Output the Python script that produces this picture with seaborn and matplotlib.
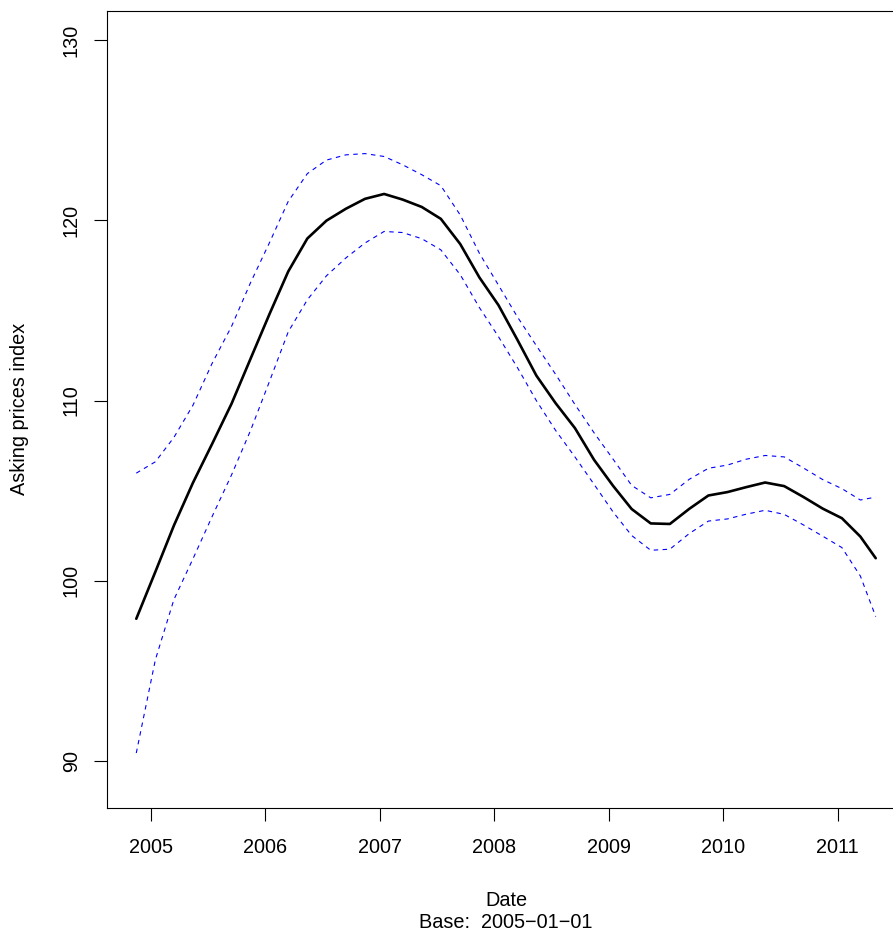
import pandas as pd
import matplotlib
matplotlib.use("Agg")
import matplotlib.pyplot as plt
import matplotlib.dates as mdates
import seaborn as sns

# Data, two-monthly points + last obs
dates = list(pd.date_range("2004-11-01", "2011-03-01", freq="2MS") + pd.Timedelta(days=14)) \
    + [pd.Timestamp("2011-05-03")]

index_fit = [97.89, 100.50, 103.06, 105.44, 107.59, 109.82, 112.33, 114.83, 117.16, 118.99,
             119.98, 120.64, 121.19, 121.46, 121.15, 120.74, 120.08, 118.68, 116.83, 115.29,
             113.38, 111.38, 109.86, 108.47, 106.71, 105.26, 103.98, 103.18, 103.15, 103.99,
             104.73, 104.92, 105.19, 105.45, 105.25, 104.64, 104.00, 103.47, 102.45, 101.25]

upper_band = [105.97, 106.60, 107.95, 109.74, 112.06, 114.11, 116.55, 118.79, 121.05, 122.59,
              123.34, 123.63, 123.70, 123.54, 123.08, 122.53, 121.92, 120.29, 118.17, 116.40,
              114.65, 113.04, 111.46, 109.78, 108.21, 106.74, 105.29, 104.60, 104.79, 105.63,
              106.24, 106.42, 106.74, 106.95, 106.87, 106.25, 105.61, 105.11, 104.48, 104.64]

lower_band = [90.44, 95.62, 98.95, 101.22, 103.56, 105.87, 108.35, 111.10, 113.81, 115.59,
              116.92, 117.91, 118.74, 119.38, 119.32, 118.98, 118.36, 116.98, 115.16, 113.54,
              111.84, 109.99, 108.35, 106.87, 105.35, 103.81, 102.51, 101.69, 101.75, 102.62,
              103.31, 103.43, 103.69, 103.91, 103.68, 103.09, 102.47, 101.84, 100.26, 98.01]

df = pd.DataFrame({"date": dates, "fit": index_fit, "upper": upper_band, "lower": lower_band})

# Setup
sns.set_style("ticks")
plt.rcParams['font.family'] = ['Liberation Sans', 'DejaVu Sans']
plt.rcParams['text.color'] = 'black'

W, H = 893, 934
fig = plt.figure(figsize=(W / 100, H / 100), dpi=100)
ax = fig.add_axes([107 / W, 126 / H, 798.5 / W, 797.5 / H])

sns.lineplot(data=df, x="date", y="upper", ax=ax, color="#0000FF", lw=0.8,
             linestyle=(0, (4, 4)), errorbar=None)
sns.lineplot(data=df, x="date", y="lower", ax=ax, color="#0000FF", lw=0.8,
             linestyle=(0, (4, 4)), errorbar=None)
sns.lineplot(data=df, x="date", y="fit", ax=ax, color="black", lw=1.9, errorbar=None,
             solid_joinstyle="round")

# Axis limits, R-style
t05 = mdates.date2num(pd.Timestamp("2005-01-01"))
t11 = mdates.date2num(pd.Timestamp("2011-01-01"))
ppd = (837.5 - 151) / (t11 - t05)
ax.set_xlim(t05 - 44 / ppd, t05 + 754.5 / ppd)
ax.set_ylim(87.39, 131.64)

ax.xaxis.set_major_locator(mdates.YearLocator())
ax.xaxis.set_major_formatter(mdates.DateFormatter("%Y"))
ax.set_yticks([90, 100, 110, 120, 130])

for s in ax.spines.values():
    s.set_linewidth(0.8)
    s.set_color("black")
ax.tick_params(axis="both", length=9.4, width=0.8, color="black", labelsize=14.3,
               labelcolor="black")
ax.tick_params(axis="x", pad=12.5)
ax.tick_params(axis="y", pad=9.5, labelrotation=90)
for lab in ax.get_yticklabels():
    lab.set_va("center")

ax.set_xlabel("")
ax.set_ylabel("")
fig.text(20 / W, 1 - 409 / H, "Asking prices index", rotation=90, ha="center", va="center",
         fontsize=14.3, color="black")
fig.text(506 / W, 1 - 900 / H, "Date", ha="center", va="center", fontsize=14.3, color="black")
fig.text(506 / W, 1 - 922 / H, "Base:  2005\u221201\u221201", ha="center", va="center",
         fontsize=14.3, color="black")

fig.savefig("out.png", dpi=100)
